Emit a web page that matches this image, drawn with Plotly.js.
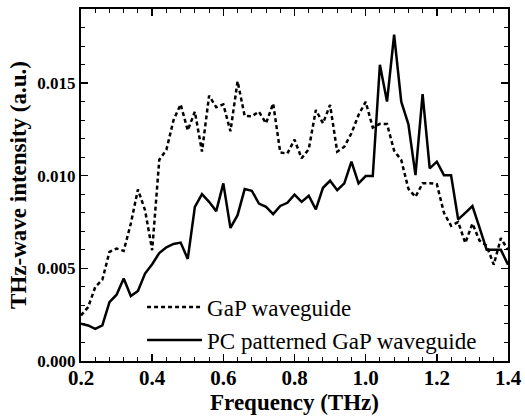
<!DOCTYPE html>
<html>
<head>
<meta charset="utf-8">
<script src="https://cdn.plot.ly/plotly-3.0.1.min.js"></script>
<style>html,body{margin:0;padding:0;background:#fff;}#chart{width:525px;height:416px;}</style>
</head>
<body>
<div id="chart"></div>
<script>
const freq = [0.20,0.22,0.24,0.26,0.28,0.30,0.32,0.34,0.36,0.38,0.40,0.42,0.44,0.46,0.48,0.50,0.52,0.54,0.56,0.58,0.60,0.62,0.64,0.66,0.68,0.70,0.72,0.74,0.76,0.78,0.80,0.82,0.84,0.86,0.88,0.90,0.92,0.94,0.96,0.98,1.00,1.02,1.04,1.06,1.08,1.10,1.12,1.14,1.16,1.18,1.20,1.22,1.24,1.26,1.28,1.30,1.32,1.34,1.36,1.38,1.40];

const gapWaveguide = [0.00246,0.00291,0.00399,0.00439,0.00589,0.00607,0.00594,0.00742,0.00926,0.00814,0.00598,0.01086,0.01140,0.01300,0.01385,0.01245,0.01346,0.01130,0.01432,0.01370,0.01385,0.01240,0.01510,0.01323,0.01321,0.01346,0.01283,0.01390,0.01125,0.01120,0.01195,0.01094,0.01143,0.01355,0.01283,0.01382,0.01130,0.01157,0.01229,0.01328,0.01399,0.01260,0.01280,0.01279,0.01135,0.01085,0.00930,0.00886,0.00959,0.00960,0.00955,0.00800,0.00730,0.00750,0.00637,0.00742,0.00650,0.00622,0.00520,0.00663,0.00600];

const pcWaveguide = [0.00201,0.00192,0.00174,0.00192,0.00318,0.00358,0.00445,0.00351,0.00378,0.00472,0.00522,0.00583,0.00614,0.00632,0.00639,0.00551,0.00832,0.00901,0.00859,0.00809,0.00959,0.00718,0.00787,0.00928,0.00919,0.00850,0.00832,0.00793,0.00837,0.00854,0.00898,0.00859,0.00892,0.00818,0.00935,0.00973,0.00922,0.00959,0.01076,0.00959,0.00998,0.00998,0.01599,0.01400,0.01761,0.01400,0.01279,0.01003,0.01440,0.01040,0.01076,0.01003,0.01003,0.00764,0.00800,0.00836,0.00720,0.00600,0.00600,0.00600,0.00520];

const seriesNames = ["GaP waveguide", "PC patterned GaP waveguide"];
const xTickVals = [0.2,0.4,0.6,0.8,1.0,1.2,1.4];
const xTickText = ["0.2","0.4","0.6","0.8","1.0","1.2","1.4"];
const yTickVals = [0,0.005,0.010,0.015];
const yTickText = ["0.000","0.005","0.010","0.015"];

const serif = "'Liberation Serif', 'Times New Roman', serif";

const traces = [
  {x: freq, y: gapWaveguide, name: seriesNames[0], type: "scatter", mode: "lines",
   line: {color: "#000", width: 2.5, dash: "4px,3px"}},
  {x: freq, y: pcWaveguide, name: seriesNames[1], type: "scatter", mode: "lines",
   line: {color: "#000", width: 2.5}}
];

const axisCommon = {
  showgrid: false, zeroline: false, showline: true, linecolor: "#000", linewidth: 2,
  mirror: "allticks", ticks: "inside", ticklen: 7, tickwidth: 1.5, tickcolor: "#000"
};

const layout = {
  width: 525, height: 416,
  margin: {l: 81, r: 17, t: 9, b: 55},
  paper_bgcolor: "#fff", plot_bgcolor: "#fff",
  font: {family: serif, color: "#000"},
  showlegend: true,
  legend: {x: 0.143, y: 0.214, xanchor: "left", yanchor: "top", bgcolor: "rgba(0,0,0,0)",
           font: {family: serif, size: 23, color: "#000"}, tracegroupgap: 0, itemwidth: 55},
  xaxis: Object.assign({}, axisCommon, {
    range: [0.2, 1.4], tickvals: xTickVals, ticktext: xTickText,
    tickfont: {family: serif, size: 21, color: "#000", weight: "bold"},
    ticklabelstandoff: -3,
    minor: {dtick: 0.04, ticks: "inside", ticklen: 4, tickwidth: 1, tickcolor: "#000"},
    title: {text: "<b>Frequency (THz)</b>", font: {family: serif, size: 23, color: "#000"}, standoff: 2}
  }),
  yaxis: Object.assign({}, axisCommon, {
    range: [0, 0.019], tickvals: yTickVals, ticktext: yTickText,
    tickfont: {family: serif, size: 17, color: "#000", weight: "bold"},
    minor: {dtick: 0.001, ticks: "inside", ticklen: 4, tickwidth: 1, tickcolor: "#000"},
    title: {text: "<b>THz-wave intensity (a.u.)</b>", font: {family: serif, size: 23, color: "#000"}, standoff: 4}
  })
};

Plotly.newPlot("chart", traces, layout, {staticPlot: true, displayModeBar: false});
</script>
</body>
</html>
